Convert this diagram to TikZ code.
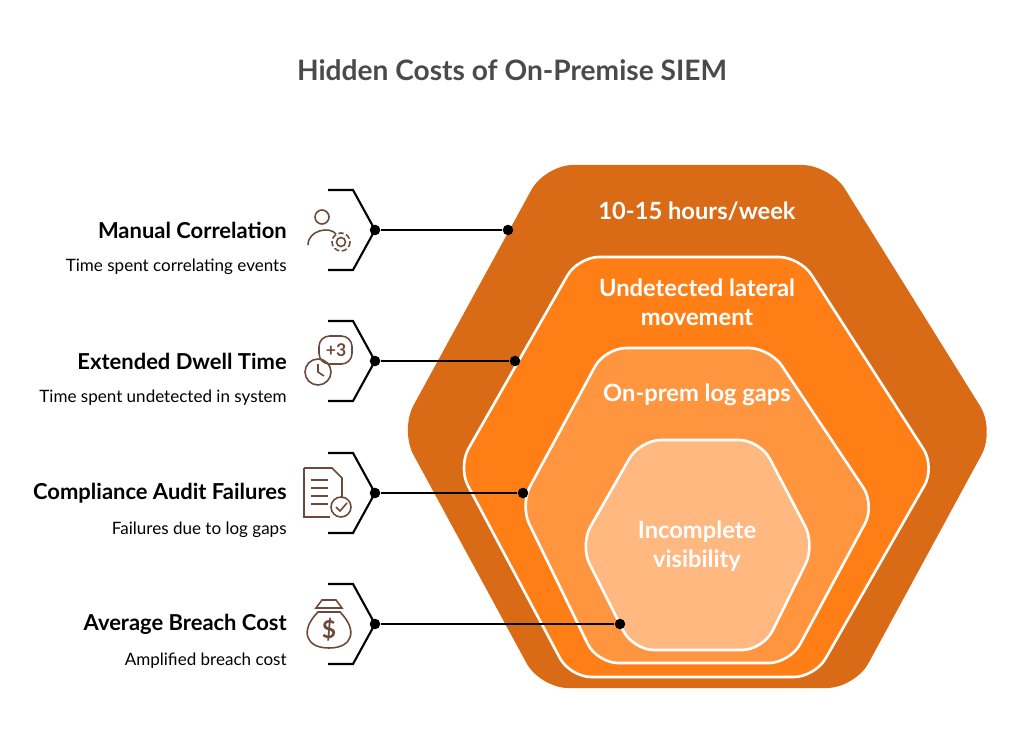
\documentclass[tikz,border=0pt]{standalone}
\usepackage{fontspec}
\setmainfont{Lato}
\usetikzlibrary{positioning}
\definecolor{hexA}{HTML}{D96B17}
\definecolor{hexB}{HTML}{FF7F16}
\definecolor{hexC}{HTML}{FF963F}
\definecolor{hexD}{HTML}{FFB880}
\definecolor{ink}{HTML}{4A4A4A}
\definecolor{iconc}{HTML}{6B4A3A}
\tikzset{
  hexin/.style={draw=white, line width=1.5pt, rounded corners=12pt},
  hextext/.style={text=white, font=\bfseries\fontsize{13.5}{16.5}\selectfont, align=center},
  head/.style={anchor=east, inner sep=0pt, font=\bfseries\fontsize{12.5}{15}\selectfont, text=black},
  sub/.style={anchor=east, inner sep=0pt, font=\fontsize{9.7}{12}\selectfont, text=black},
  dot/.style={circle, fill=black, inner sep=0pt, minimum size=6pt},
  icon/.style={draw=iconc, line width=0.9pt}
}
\begin{document}
\begin{tikzpicture}[x=0.02cm, y=-0.02cm]
\useasboundingbox (0,0) rectangle (1024,743);

% title
\node[font=\bfseries\fontsize{16}{19}\selectfont, text=ink] (title) at (512,70) {Hidden Costs of On-Premise SIEM};

% hexagons
\fill[hexA, rounded corners=16pt] (400,430) -- (545,165) -- (830,165) -- (995,430) -- (855,688) -- (540,688) -- cycle;
\filldraw[hexB, hexin] (458,467) -- (578,257) -- (800,257) -- (935,467) -- (815,677) -- (570,677) -- cycle;
\filldraw[hexC, hexin] (520,505) -- (605,348) -- (770,348) -- (875,505) -- (790,663) -- (597,663) -- cycle;
\filldraw[hexD, hexin] (580,545) -- (640,440) -- (760,440) -- (815,545) -- (763,650) -- (633,650) -- cycle;

\node[hextext] (tA) at (697,211) {10-15 hours/week};
\node[hextext] (tB) at (697,302) {Undetected lateral\\movement};
\node[hextext] (tC) at (697,395) {On-prem log gaps};
\node[hextext] (tD) at (697,546) {Incomplete\\visibility};

% left side items
\foreach \i/\y/\ex/\hd/\sb in {
  1/230/508/Manual Correlation/Time spent correlating events,
  2/361/515/Extended Dwell Time/Time spent undetected in system,
  3/493/523/Compliance Audit Failures/Failures due to log gaps,
  4/624/620/Average Breach Cost/Amplified breach cost}{
  \node[head] (h\i) at (287,\y) {\hd};
  \node[sub] (s\i) at (287,\y+37) {\sb};
  \draw[line width=1.2pt] (328,\y-40) -- (353,\y-40) -- (375,\y) -- (353,\y+40) -- (328,\y+40);
  \node[dot] (a\i) at (375,\y) {};
  \node[dot] (b\i) at (\ex,\y) {};
  \draw[line width=1.2pt] (a\i) -- (b\i);
}

% icons
% person with gear
\draw[icon] (322,217) circle (7);
\draw[icon] (308,245) .. controls (308,230) and (330,226) .. (336,234);
\draw[icon] (341,242) circle (4.5);
\draw[icon, dash pattern=on 3pt off 1.5pt] (341,242) circle (9);
% speech bubble +3 with clock
\draw[icon, rounded corners=6pt] (319,336) rectangle (352,364);
\node[text=iconc, font=\bfseries\fontsize{10}{12}\selectfont] (ic2) at (336,350) {+3};
\draw[icon] (318,372) circle (13);
\draw[icon] (318,364) -- (318,372) -- (324,376);
% document with check
\draw[icon] (304,468) -- (332,468) -- (342,478) -- (342,498);
\draw[icon] (304,468) -- (304,517) -- (330,517);
\foreach \ly in {480,488,496,504}
  \draw[icon] (311,\ly) -- (328,\ly);
\draw[icon] (341,507) circle (10);
\draw[icon] (336,507) -- (340,511) -- (347,503);
% money bag
\draw[icon] (316,608) -- (322,600) -- (336,600) -- (342,608) -- cycle;
\draw[icon] (318,612) .. controls (300,630) and (305,648) .. (329,648) .. controls (353,648) and (358,630) .. (340,612) -- cycle;
\node[text=iconc, font=\bfseries\fontsize{14}{16}\selectfont] (ic4) at (329,630) {\$};
\end{tikzpicture}
\end{document}
